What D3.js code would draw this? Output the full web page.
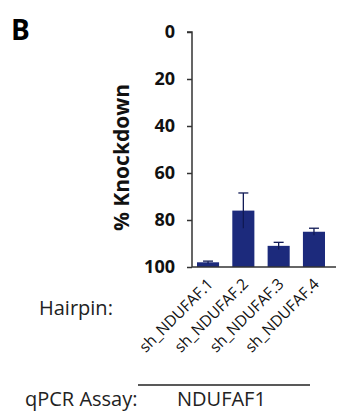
<!DOCTYPE html>
<html>
<head>
<meta charset="utf-8">
<script src="https://cdn.jsdelivr.net/npm/d3@7"></script>
<style>
  body { margin: 0; background: #fff; }
  svg { display: block; font-family: "Open Sans", sans-serif; }
</style>
</head>
<body>
<svg id="chart" width="337" height="418"></svg>
<script>
// --- Data ---
const hairpins = ['sh_NDUFAF.1', 'sh_NDUFAF.2', 'sh_NDUFAF.3', 'sh_NDUFAF.4'];
const knockdown = [98, 76, 91, 85];
const errors = [0.5, 7.5, 1.5, 1.5];
const yTicks = [0, 20, 40, 60, 80, 100];
const assay = 'NDUFAF1';

const svg = d3.select('#chart');
const barColor = '#1c2a7c';

// --- Scales (0 at top, 100 at bottom) ---
const y = d3.scaleLinear().domain([0, 100]).range([32, 267]);
const x = d3.scaleBand().domain(hairpins).range([197, 325]).paddingInner(0.375).paddingOuter(0);

// panel letter
svg.append('text')
  .attr('x', 11).attr('y', 40)
  .attr('font-size', 28).attr('font-weight', 700)
  .text('B');

// --- Y axis ---
const yAxis = svg.append('g')
  .attr('transform', 'translate(192,0)')
  .call(d3.axisLeft(y).tickValues(yTicks).tickSize(5).tickPadding(12));
yAxis.select('.domain').attr('stroke', '#333').attr('stroke-width', 1.5).attr('d', `M-5,${y(0)}H0V${y(100)}`);
yAxis.selectAll('.tick line').attr('stroke', '#333').attr('stroke-width', 1.5);
yAxis.selectAll('.tick text')
  .attr('font-family', '"Open Sans", sans-serif')
  .attr('font-size', 18).attr('font-weight', 700).attr('fill', '#111');

svg.append('text')
  .attr('transform', `translate(129,${(y(0) + y(100)) / 2 + 8}) rotate(-90)`)
  .attr('text-anchor', 'middle')
  .attr('font-size', 21).attr('font-weight', 700).attr('fill', '#111')
  .text('% Knockdown');

// --- Bars ---
svg.selectAll('rect.bar')
  .data(hairpins)
  .enter().append('rect')
  .attr('class', 'bar')
  .attr('x', d => x(d))
  .attr('width', x.bandwidth())
  .attr('y', (d, i) => y(knockdown[i]))
  .attr('height', (d, i) => y(100) - y(knockdown[i]))
  .attr('fill', barColor);

// error bars
const eb = svg.selectAll('g.err')
  .data(hairpins)
  .enter().append('g')
  .attr('class', 'err')
  .attr('stroke', '#111a55')
  .attr('stroke-width', 1.3);
eb.append('line')
  .attr('x1', d => x(d) + x.bandwidth() / 2)
  .attr('x2', d => x(d) + x.bandwidth() / 2)
  .attr('y1', (d, i) => y(knockdown[i] - errors[i]))
  .attr('y2', (d, i) => y(Math.min(100, knockdown[i] + errors[i])));
eb.append('line')
  .attr('x1', d => x(d) + x.bandwidth() / 2 - 5)
  .attr('x2', d => x(d) + x.bandwidth() / 2 + 5)
  .attr('y1', (d, i) => y(knockdown[i] - errors[i]))
  .attr('y2', (d, i) => y(knockdown[i] - errors[i]));

// baseline
svg.append('line')
  .attr('x1', 192).attr('x2', 336)
  .attr('y1', y(100)).attr('y2', y(100))
  .attr('stroke', '#333').attr('stroke-width', 1.5);

// --- Hairpin labels ---
svg.append('text')
  .attr('x', 39).attr('y', 315)
  .attr('font-size', 20).attr('fill', '#222')
  .text('Hairpin:');

svg.selectAll('text.hp')
  .data(hairpins)
  .enter().append('text')
  .attr('class', 'hp')
  .attr('text-anchor', 'end')
  .attr('font-size', 15.5).attr('fill', '#111')
  .attr('transform', d => `translate(${x(d) + x.bandwidth() / 2 + 6},${285}) rotate(-45)`)
  .text(d => d);

// --- qPCR assay ---
svg.append('line')
  .attr('x1', 138).attr('x2', 310)
  .attr('y1', 385).attr('y2', 385)
  .attr('stroke', '#222').attr('stroke-width', 1.5);

svg.append('text')
  .attr('x', 25).attr('y', 406)
  .attr('font-size', 20).attr('fill', '#222')
  .text('qPCR Assay:');

svg.append('text')
  .attr('x', 177).attr('y', 406)
  .attr('font-size', 20).attr('fill', '#222')
  .text(assay);
</script>
</body>
</html>
